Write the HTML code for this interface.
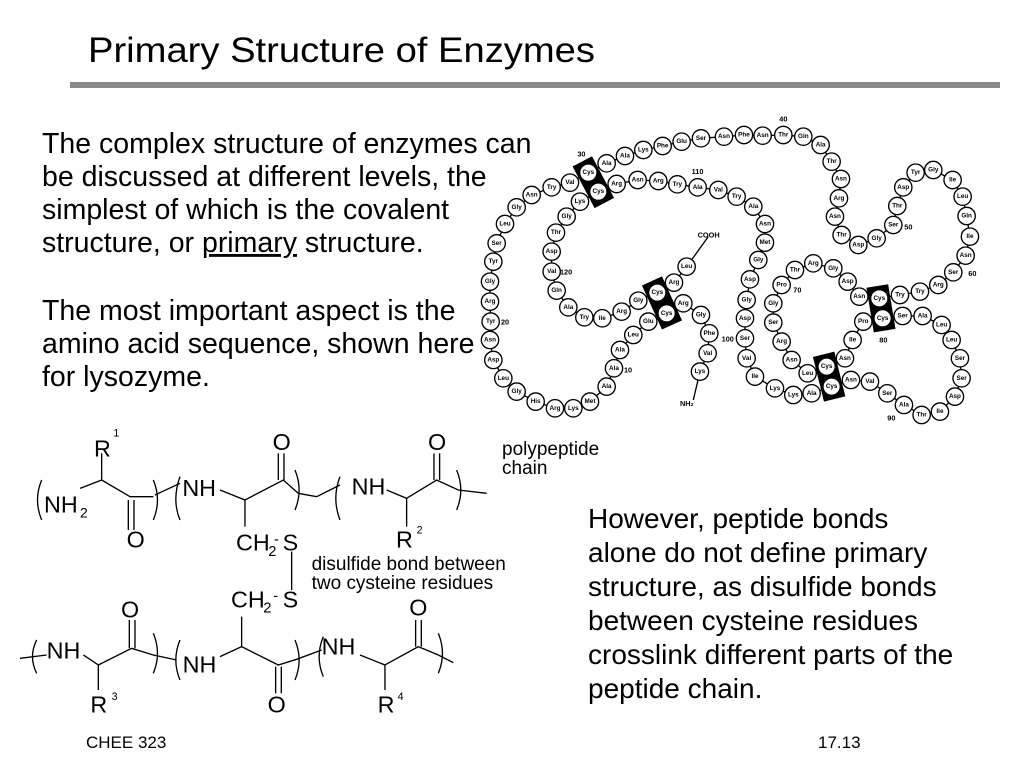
<!DOCTYPE html>
<html><head><meta charset="utf-8"><style>
html,body{margin:0;padding:0;background:#fff;width:1024px;height:768px;overflow:hidden}
svg{display:block}
.t{font-family:"Liberation Sans",Arial,sans-serif;fill:#000}
#beads circle{fill:#fff;stroke:#000;stroke-width:4}
#beads text{font-family:"Liberation Sans",Arial,sans-serif;font-size:19px;font-weight:bold;text-anchor:middle;dominant-baseline:central}
</style></head><body>
<svg width="1024" height="768" viewBox="0 0 1024 768" xmlns="http://www.w3.org/2000/svg">
<text class="t" x="88" y="62" font-size="35" textLength="507" lengthAdjust="spacingAndGlyphs">Primary Structure of Enzymes</text>
<rect x="70" y="82" width="930" height="6" fill="#8a8a8a"/>

<g class="t" font-size="28.5">
<text x="42" y="153">The complex structure of enzymes can</text>
<text x="42" y="186">be discussed at different levels, the</text>
<text x="42" y="219">simplest of which is the covalent</text>
<text x="42" y="252">structure, or <tspan text-decoration="underline">primary</tspan> structure.</text>
<text x="42" y="320">The most important aspect is the</text>
<text x="42" y="353">amino acid sequence, shown here</text>
<text x="42" y="386">for lysozyme.</text>
</g>
<g class="t" font-size="28">
<text x="588" y="528">However, peptide bonds</text>
<text x="588" y="562">alone do not define primary</text>
<text x="588" y="596">structure, as disulfide bonds</text>
<text x="588" y="630">between cysteine residues</text>
<text x="588" y="664">crosslink different parts of the</text>
<text x="588" y="698">peptide chain.</text>
</g>
<g class="t" font-size="19">
<text x="502" y="455">polypeptide</text>
<text x="502" y="474">chain</text>
<text x="86" y="748" font-size="17">CHEE 323</text>
<text x="818" y="748" font-size="17">17.13</text>
</g>

<!-- chemistry -->
<g transform="translate(20,420) scale(0.3333)" class="t" font-size="70">
<g fill="none" stroke="#000" stroke-width="4">
<path d="M180,205 L245,180 L245,100 M245,180 L330,230 L400,230 M325,240 L325,330 M342,240 L342,330"/>
<path d="M405,225 L480,190"/>
<path d="M600,210 L675,240 L675,320 M675,240 L790,180 L835,220 L890,230 L960,195 M775,100 L775,180 M792,100 L792,180"/>
<path d="M1100,210 L1160,235 L1160,320 M1160,235 L1250,180 L1315,210 L1400,220 M1242,100 L1242,180 M1259,100 L1259,180"/>
<path d="M815,395 L815,510 M665,590 L665,680"/>
<path d="M0,715 L80,705 M190,705 L235,735 L235,810 M235,735 L335,685 L400,705 L470,720 M328,600 L328,685 M345,600 L345,685"/>
<path d="M600,710 L665,680 L775,735 L830,718 L905,690 M767,740 L767,820 M784,740 L784,820"/>
<path d="M1020,705 L1095,735 L1095,810 M1095,735 L1195,680 L1255,705 L1300,728 M1187,600 L1187,680 M1204,600 L1204,680"/>
<path d="M65,180 Q40,240 65,300 M400,180 Q425,240 400,300 M480,170 Q455,240 480,300 M825,150 Q850,210 825,270 M960,170 Q935,235 960,300 M1310,150 Q1335,210 1310,270"/>
<path d="M50,660 Q25,710 50,760 M400,640 Q425,700 400,760 M480,660 Q455,720 480,780 M825,660 Q850,720 825,780 M910,650 Q885,710 910,770 M1255,640 Q1280,700 1255,760"/>
</g>
<text x="72" y="278">NH</text><text x="180" y="292" font-size="42">2</text>
<text x="222" y="110">R</text><text x="280" y="50" font-size="32">1</text>
<text x="320" y="382">O</text>
<text x="487" y="228">NH</text>
<text x="758" y="90">O</text>
<text x="995" y="224">NH</text>
<text x="1224" y="90">O</text>
<text x="1128" y="382">R</text><text x="1190" y="340" font-size="32">2</text>
<text x="648" y="392">CH</text><text x="745" y="408" font-size="44">2</text><text x="762" y="372" font-size="44">-</text><text x="788" y="392">S</text>
<text x="633" y="562">CH</text><text x="730" y="578" font-size="44">2</text><text x="760" y="542" font-size="44">-</text><text x="788" y="562">S</text>
<text x="875" y="450" font-size="57">disulfide bond between</text>
<text x="875" y="507" font-size="57">two cysteine residues</text>
<text x="303" y="592">O</text>
<text x="80" y="715">NH</text>
<text x="488" y="758">NH</text>
<text x="905" y="703">NH</text>
<text x="211" y="877">R</text><text x="275" y="840" font-size="32">3</text>
<text x="743" y="877">O</text>
<text x="1073" y="877">R</text><text x="1133" y="840" font-size="32">4</text>
<text x="1168" y="587">O</text>
</g>

<!-- lysozyme -->
<g transform="translate(470,100) scale(0.3333)">
<g stroke="#000" stroke-width="66" stroke-linecap="butt">
<line x1="337" y1="184" x2="403" y2="309"/>
<line x1="546" y1="543" x2="606" y2="675"/>
<line x1="1222" y1="558" x2="1244" y2="692"/>
<line x1="1061" y1="763" x2="1094" y2="897"/>
</g>
<polyline fill="none" stroke="#000" stroke-width="4" points="670,900 690,815 713,760 718,700 693,645 640,610 590,640 535,665 490,705 450,750 432,805 410,860 360,905 310,925 255,925 197,905 140,875 100,835 70,780 60,720 62,665 60,605 60,545 70,485 80,430 105,372 140,322 185,285 245,262 300,248 355,218 410,190 465,168 520,150 578,138 635,125 693,115 762,110 822,105 878,107 940,105 1000,110 1052,135 1085,185 1113,237 1107,295 1095,350 1115,405 1165,435 1220,415 1270,375 1282,318 1300,262 1337,218 1390,210 1448,240 1478,290 1490,348 1500,410 1487,467 1450,517 1405,555 1350,575 1290,585 1228,595 1168,590 1133,545 1090,505 1030,490 975,510 935,555 910,610 910,668 935,725 965,780 1013,820 1070,800 1125,775 1148,720 1180,665 1238,655 1298,648 1358,648 1415,675 1445,720 1470,775 1475,835 1455,890 1410,935 1355,945 1302,915 1252,880 1200,845 1143,840 1085,860 1025,880 970,885 915,865 855,830 830,775 825,715 825,655 830,600 840,538 865,480 885,428 885,372 850,320 800,290 745,270 683,262 622,253 565,243 503,240 440,252 385,275 330,305 290,350 258,398 245,455 245,515 260,572 295,622 343,652 397,655 455,635 505,602 562,578 612,548 650,500 715,410"/>
<g id="beads">
<circle cx="690" cy="815" r="26"/><text x="690" y="815">Lys</text>
<circle cx="713" cy="760" r="26"/><text x="713" y="760">Val</text>
<circle cx="718" cy="700" r="26"/><text x="718" y="700">Phe</text>
<circle cx="693" cy="645" r="26"/><text x="693" y="645">Gly</text>
<circle cx="640" cy="610" r="26"/><text x="640" y="610">Arg</text>
<circle cx="590" cy="640" r="26"/><text x="590" y="640">Cys</text>
<circle cx="535" cy="665" r="26"/><text x="535" y="665">Glu</text>
<circle cx="490" cy="705" r="26"/><text x="490" y="705">Leu</text>
<circle cx="450" cy="750" r="26"/><text x="450" y="750">Ala</text>
<circle cx="432" cy="805" r="26"/><text x="432" y="805">Ala</text>
<circle cx="410" cy="860" r="26"/><text x="410" y="860">Ala</text>
<circle cx="360" cy="905" r="26"/><text x="360" y="905">Met</text>
<circle cx="310" cy="925" r="26"/><text x="310" y="925">Lys</text>
<circle cx="255" cy="925" r="26"/><text x="255" y="925">Arg</text>
<circle cx="197" cy="905" r="26"/><text x="197" y="905">His</text>
<circle cx="140" cy="875" r="26"/><text x="140" y="875">Gly</text>
<circle cx="100" cy="835" r="26"/><text x="100" y="835">Leu</text>
<circle cx="70" cy="780" r="26"/><text x="70" y="780">Asp</text>
<circle cx="60" cy="720" r="26"/><text x="60" y="720">Asn</text>
<circle cx="62" cy="665" r="26"/><text x="62" y="665">Tyr</text>
<circle cx="60" cy="605" r="26"/><text x="60" y="605">Arg</text>
<circle cx="60" cy="545" r="26"/><text x="60" y="545">Gly</text>
<circle cx="70" cy="485" r="26"/><text x="70" y="485">Tyr</text>
<circle cx="80" cy="430" r="26"/><text x="80" y="430">Ser</text>
<circle cx="105" cy="372" r="26"/><text x="105" y="372">Leu</text>
<circle cx="140" cy="322" r="26"/><text x="140" y="322">Gly</text>
<circle cx="185" cy="285" r="26"/><text x="185" y="285">Asn</text>
<circle cx="245" cy="262" r="26"/><text x="245" y="262">Try</text>
<circle cx="300" cy="248" r="26"/><text x="300" y="248">Val</text>
<circle cx="355" cy="218" r="26"/><text x="355" y="218">Cys</text>
<circle cx="410" cy="190" r="26"/><text x="410" y="190">Ala</text>
<circle cx="465" cy="168" r="26"/><text x="465" y="168">Ala</text>
<circle cx="520" cy="150" r="26"/><text x="520" y="150">Lys</text>
<circle cx="578" cy="138" r="26"/><text x="578" y="138">Phe</text>
<circle cx="635" cy="125" r="26"/><text x="635" y="125">Glu</text>
<circle cx="693" cy="115" r="26"/><text x="693" y="115">Ser</text>
<circle cx="762" cy="110" r="26"/><text x="762" y="110">Asn</text>
<circle cx="822" cy="105" r="26"/><text x="822" y="105">Phe</text>
<circle cx="878" cy="107" r="26"/><text x="878" y="107">Asn</text>
<circle cx="940" cy="105" r="26"/><text x="940" y="105">Thr</text>
<circle cx="1000" cy="110" r="26"/><text x="1000" y="110">Gln</text>
<circle cx="1052" cy="135" r="26"/><text x="1052" y="135">Ala</text>
<circle cx="1085" cy="185" r="26"/><text x="1085" y="185">Thr</text>
<circle cx="1113" cy="237" r="26"/><text x="1113" y="237">Asn</text>
<circle cx="1107" cy="295" r="26"/><text x="1107" y="295">Arg</text>
<circle cx="1095" cy="350" r="26"/><text x="1095" y="350">Asn</text>
<circle cx="1115" cy="405" r="26"/><text x="1115" y="405">Thr</text>
<circle cx="1165" cy="435" r="26"/><text x="1165" y="435">Asp</text>
<circle cx="1220" cy="415" r="26"/><text x="1220" y="415">Gly</text>
<circle cx="1270" cy="375" r="26"/><text x="1270" y="375">Ser</text>
<circle cx="1282" cy="318" r="26"/><text x="1282" y="318">Thr</text>
<circle cx="1300" cy="262" r="26"/><text x="1300" y="262">Asp</text>
<circle cx="1337" cy="218" r="26"/><text x="1337" y="218">Tyr</text>
<circle cx="1390" cy="210" r="26"/><text x="1390" y="210">Gly</text>
<circle cx="1448" cy="240" r="26"/><text x="1448" y="240">Ile</text>
<circle cx="1478" cy="290" r="26"/><text x="1478" y="290">Leu</text>
<circle cx="1490" cy="348" r="26"/><text x="1490" y="348">Gln</text>
<circle cx="1500" cy="410" r="26"/><text x="1500" y="410">Ile</text>
<circle cx="1487" cy="467" r="26"/><text x="1487" y="467">Asn</text>
<circle cx="1450" cy="517" r="26"/><text x="1450" y="517">Ser</text>
<circle cx="1405" cy="555" r="26"/><text x="1405" y="555">Arg</text>
<circle cx="1350" cy="575" r="26"/><text x="1350" y="575">Try</text>
<circle cx="1290" cy="585" r="26"/><text x="1290" y="585">Try</text>
<circle cx="1228" cy="595" r="26"/><text x="1228" y="595">Cys</text>
<circle cx="1168" cy="590" r="26"/><text x="1168" y="590">Asn</text>
<circle cx="1133" cy="545" r="26"/><text x="1133" y="545">Asp</text>
<circle cx="1090" cy="505" r="26"/><text x="1090" y="505">Gly</text>
<circle cx="1030" cy="490" r="26"/><text x="1030" y="490">Arg</text>
<circle cx="975" cy="510" r="26"/><text x="975" y="510">Thr</text>
<circle cx="935" cy="555" r="26"/><text x="935" y="555">Pro</text>
<circle cx="910" cy="610" r="26"/><text x="910" y="610">Gly</text>
<circle cx="910" cy="668" r="26"/><text x="910" y="668">Ser</text>
<circle cx="935" cy="725" r="26"/><text x="935" y="725">Arg</text>
<circle cx="965" cy="780" r="26"/><text x="965" y="780">Asn</text>
<circle cx="1013" cy="820" r="26"/><text x="1013" y="820">Leu</text>
<circle cx="1070" cy="800" r="26"/><text x="1070" y="800">Cys</text>
<circle cx="1125" cy="775" r="26"/><text x="1125" y="775">Asn</text>
<circle cx="1148" cy="720" r="26"/><text x="1148" y="720">Ile</text>
<circle cx="1180" cy="665" r="26"/><text x="1180" y="665">Pro</text>
<circle cx="1238" cy="655" r="26"/><text x="1238" y="655">Cys</text>
<circle cx="1298" cy="648" r="26"/><text x="1298" y="648">Ser</text>
<circle cx="1358" cy="648" r="26"/><text x="1358" y="648">Ala</text>
<circle cx="1415" cy="675" r="26"/><text x="1415" y="675">Leu</text>
<circle cx="1445" cy="720" r="26"/><text x="1445" y="720">Leu</text>
<circle cx="1470" cy="775" r="26"/><text x="1470" y="775">Ser</text>
<circle cx="1475" cy="835" r="26"/><text x="1475" y="835">Ser</text>
<circle cx="1455" cy="890" r="26"/><text x="1455" y="890">Asp</text>
<circle cx="1410" cy="935" r="26"/><text x="1410" y="935">Ile</text>
<circle cx="1355" cy="945" r="26"/><text x="1355" y="945">Thr</text>
<circle cx="1302" cy="915" r="26"/><text x="1302" y="915">Ala</text>
<circle cx="1252" cy="880" r="26"/><text x="1252" y="880">Ser</text>
<circle cx="1200" cy="845" r="26"/><text x="1200" y="845">Val</text>
<circle cx="1143" cy="840" r="26"/><text x="1143" y="840">Asn</text>
<circle cx="1085" cy="860" r="26"/><text x="1085" y="860">Cys</text>
<circle cx="1025" cy="880" r="26"/><text x="1025" y="880">Ala</text>
<circle cx="970" cy="885" r="26"/><text x="970" y="885">Lys</text>
<circle cx="915" cy="865" r="26"/><text x="915" y="865">Lys</text>
<circle cx="855" cy="830" r="26"/><text x="855" y="830">Ile</text>
<circle cx="830" cy="775" r="26"/><text x="830" y="775">Val</text>
<circle cx="825" cy="715" r="26"/><text x="825" y="715">Ser</text>
<circle cx="825" cy="655" r="26"/><text x="825" y="655">Asp</text>
<circle cx="830" cy="600" r="26"/><text x="830" y="600">Gly</text>
<circle cx="840" cy="538" r="26"/><text x="840" y="538">Asp</text>
<circle cx="865" cy="480" r="26"/><text x="865" y="480">Gly</text>
<circle cx="885" cy="428" r="26"/><text x="885" y="428">Met</text>
<circle cx="885" cy="372" r="26"/><text x="885" y="372">Asn</text>
<circle cx="850" cy="320" r="26"/><text x="850" y="320">Ala</text>
<circle cx="800" cy="290" r="26"/><text x="800" y="290">Try</text>
<circle cx="745" cy="270" r="26"/><text x="745" y="270">Val</text>
<circle cx="683" cy="262" r="26"/><text x="683" y="262">Ala</text>
<circle cx="622" cy="253" r="26"/><text x="622" y="253">Try</text>
<circle cx="565" cy="243" r="26"/><text x="565" y="243">Arg</text>
<circle cx="503" cy="240" r="26"/><text x="503" y="240">Asn</text>
<circle cx="440" cy="252" r="26"/><text x="440" y="252">Arg</text>
<circle cx="385" cy="275" r="26"/><text x="385" y="275">Cys</text>
<circle cx="330" cy="305" r="26"/><text x="330" y="305">Lys</text>
<circle cx="290" cy="350" r="26"/><text x="290" y="350">Gly</text>
<circle cx="258" cy="398" r="26"/><text x="258" y="398">Thr</text>
<circle cx="245" cy="455" r="26"/><text x="245" y="455">Asp</text>
<circle cx="245" cy="515" r="26"/><text x="245" y="515">Val</text>
<circle cx="260" cy="572" r="26"/><text x="260" y="572">Gln</text>
<circle cx="295" cy="622" r="26"/><text x="295" y="622">Ala</text>
<circle cx="343" cy="652" r="26"/><text x="343" y="652">Try</text>
<circle cx="397" cy="655" r="26"/><text x="397" y="655">Ile</text>
<circle cx="455" cy="635" r="26"/><text x="455" y="635">Arg</text>
<circle cx="505" cy="602" r="26"/><text x="505" y="602">Gly</text>
<circle cx="562" cy="578" r="26"/><text x="562" y="578">Cys</text>
<circle cx="612" cy="548" r="26"/><text x="612" y="548">Arg</text>
<circle cx="650" cy="500" r="26"/><text x="650" y="500">Leu</text>
</g>
<g font-family="Liberation Sans,Arial,sans-serif" font-size="22" font-weight="bold">
<text x="928" y="65">40</text><text x="322" y="170">30</text><text x="665" y="222">110</text><text x="270" y="523">120</text>
<text x="93" y="673">20</text><text x="462" y="818">10</text><text x="1303" y="388">50</text><text x="1495" y="528">60</text>
<text x="970" y="578">70</text><text x="1228" y="728">80</text><text x="1252" y="962">90</text><text x="755" y="725">100</text>
<text x="683" y="412">COOH</text><text x="630" y="918">NH<tspan font-size="15">2</tspan></text>
</g>
</g>
</svg>
</body></html>
